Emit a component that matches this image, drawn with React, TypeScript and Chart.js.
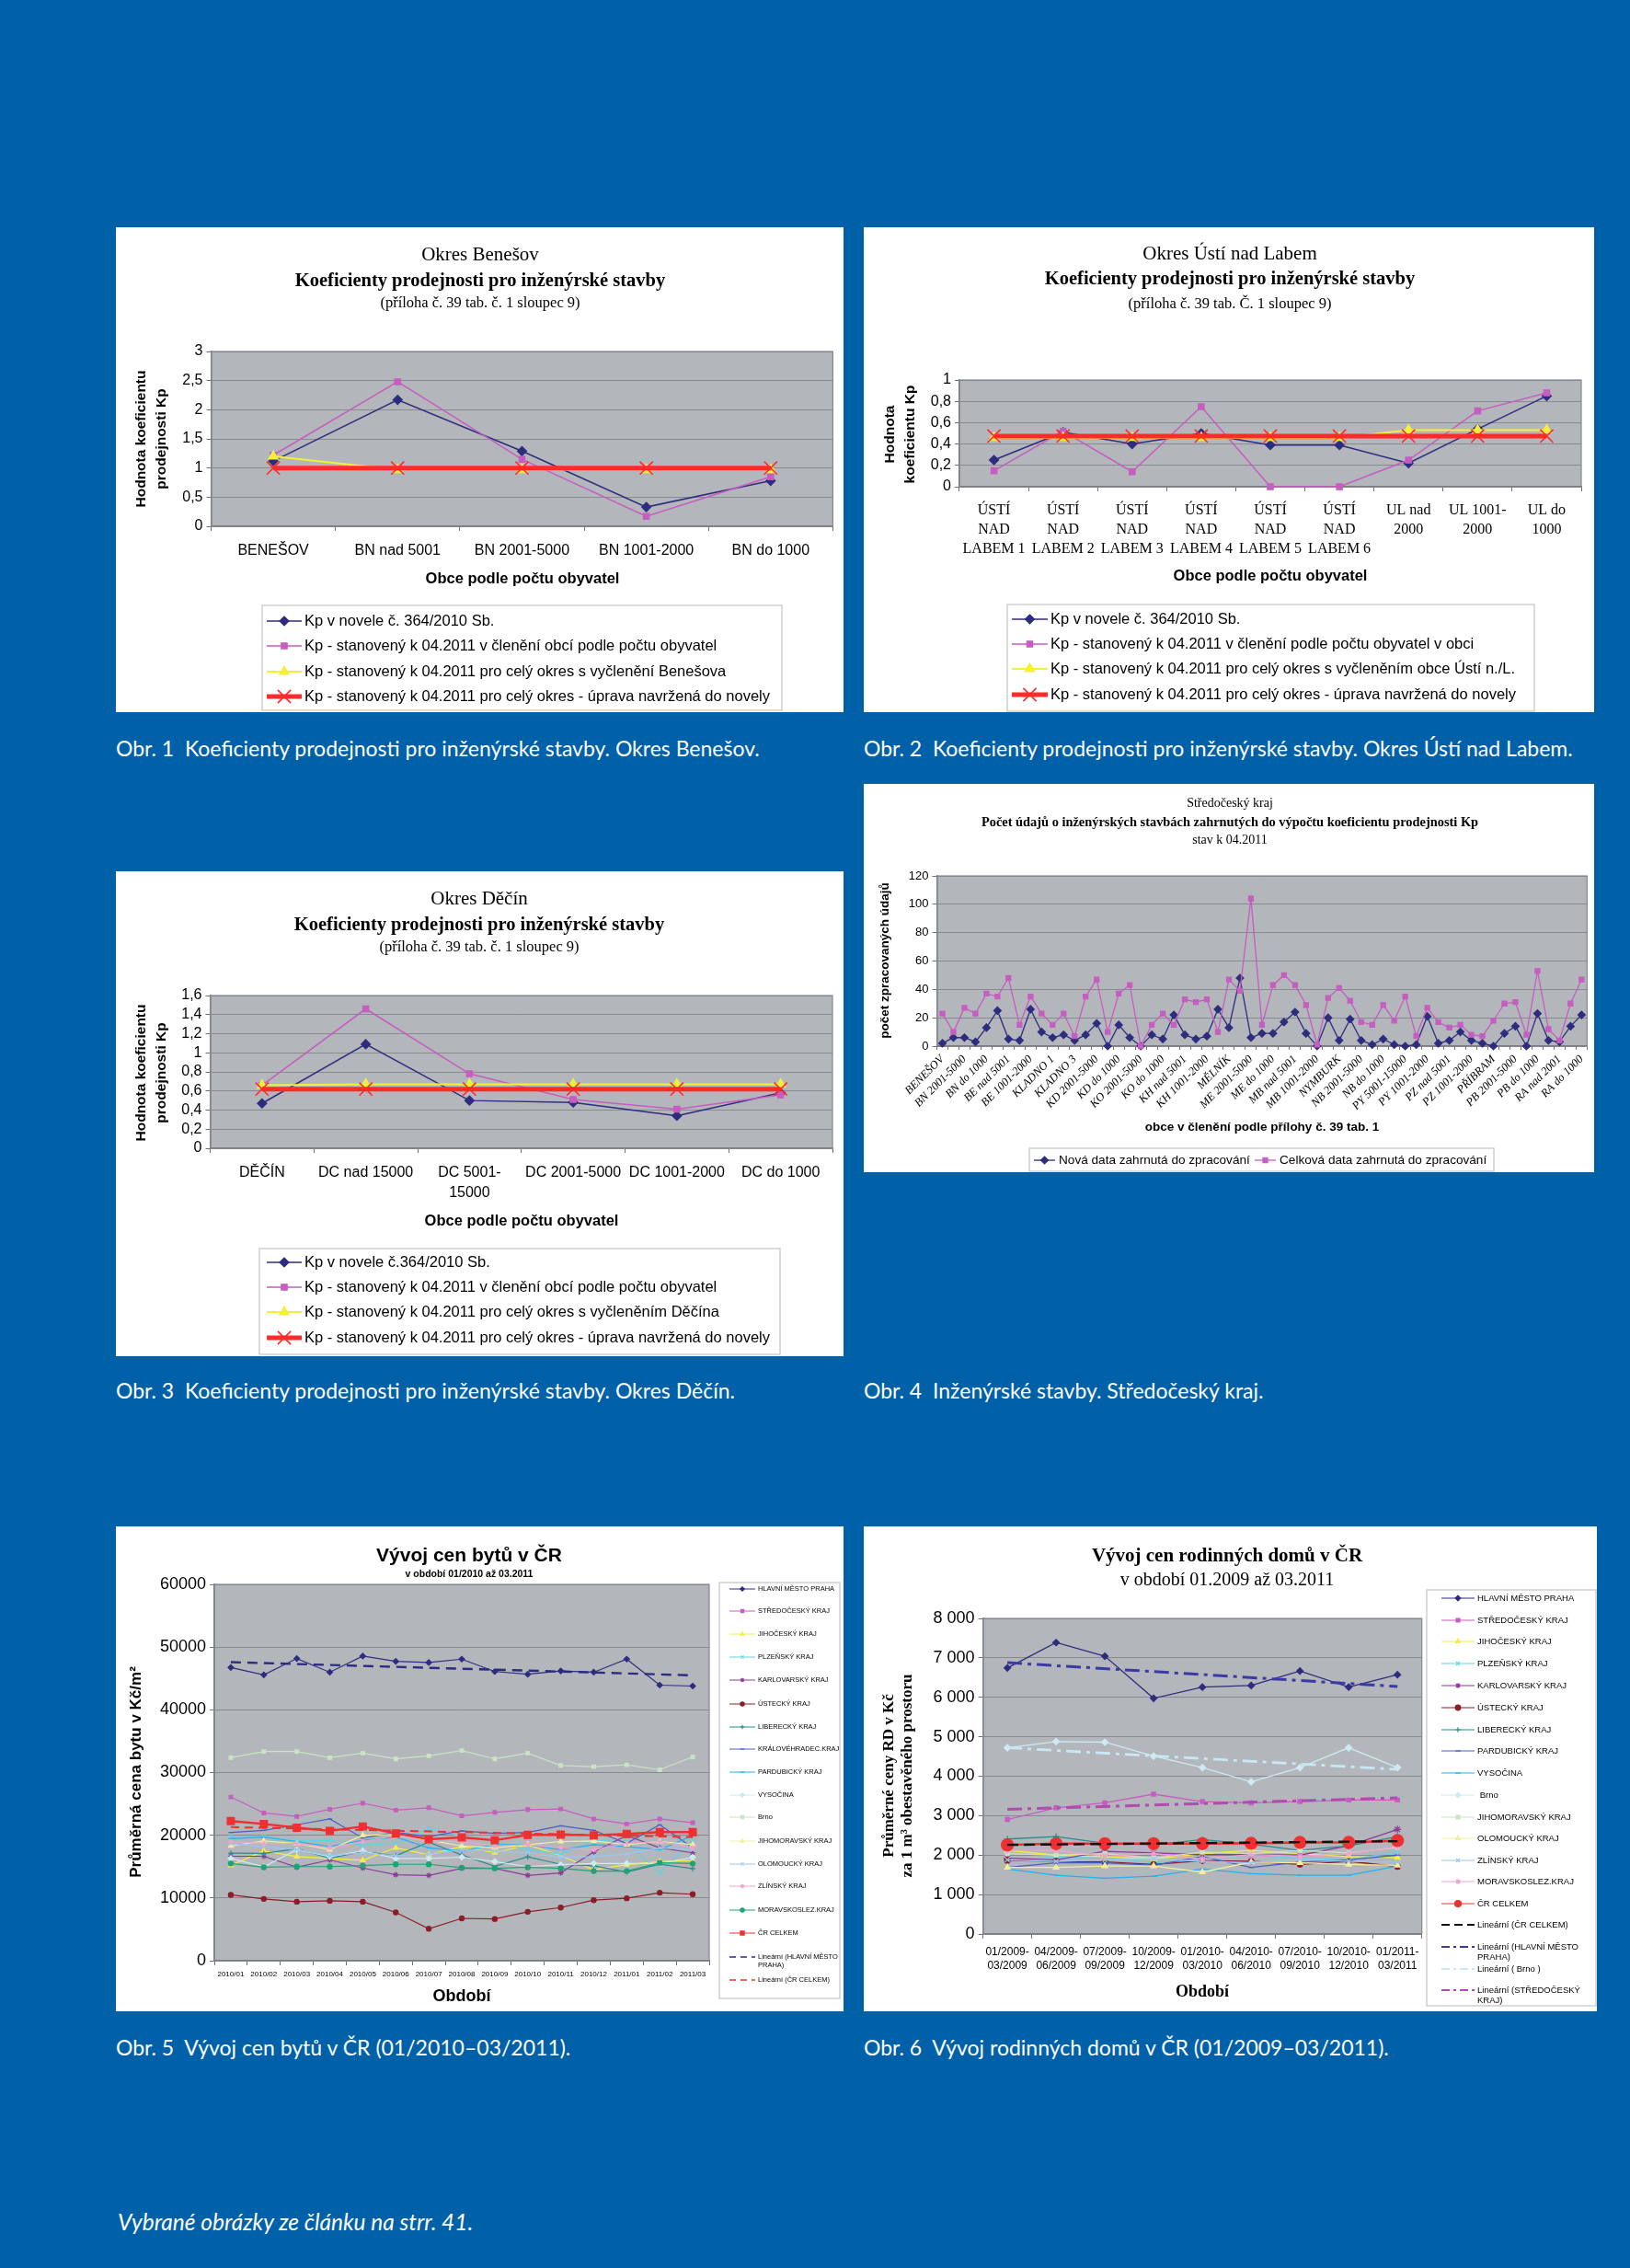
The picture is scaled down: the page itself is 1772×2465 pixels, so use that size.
import React, { useEffect, useRef } from 'react';
import { Chart, registerables } from 'chart.js';
import { drawPoint } from 'chart.js/helpers';

Chart.register(...registerables);
Chart.defaults.color = '#000';
Chart.defaults.font.family = "'Liberation Sans', Arial, sans-serif";

// ---------------- DATA ----------------
// Obr. 1 – Okres Benešov
const c1Labels = ['BENEŠOV', 'BN nad 5001', 'BN 2001-5000', 'BN 1001-2000', 'BN do 1000'];
const c1Novela = [1.12, 2.17, 1.29, 0.33, 0.78];
const c1Clenení = [1.22, 2.48, 1.15, 0.17, 0.85];
const c1Okres = [1.2, 0.97, 0.97, 0.97, 0.97];
const c1Uprava = [1, 1, 1, 1, 1];
const c1Legend = [
  'Kp v novele č. 364/2010 Sb.',
  'Kp - stanovený k 04.2011 v členění obcí podle počtu obyvatel',
  'Kp - stanovený k 04.2011 pro celý okres s vyčlenění Benešova',
  'Kp - stanovený k 04.2011 pro celý okres - úprava navržená do novely',
];

// Obr. 2 – Okres Ústí nad Labem
const c2Labels = [
  ['ÚSTÍ', 'NAD', 'LABEM 1'], ['ÚSTÍ', 'NAD', 'LABEM 2'], ['ÚSTÍ', 'NAD', 'LABEM 3'],
  ['ÚSTÍ', 'NAD', 'LABEM 4'], ['ÚSTÍ', 'NAD', 'LABEM 5'], ['ÚSTÍ', 'NAD', 'LABEM 6'],
  ['UL nad', '2000'], ['UL 1001-', '2000'], ['UL do', '1000'],
];
const c2Novela = [0.25, 0.51, 0.4, 0.5, 0.39, 0.39, 0.22, 0.54, 0.85];
const c2Clenení = [0.15, 0.52, 0.14, 0.75, 0, 0, 0.25, 0.71, 0.88];
const c2Okres = [0.46, 0.46, 0.46, 0.46, 0.46, 0.46, 0.53, 0.53, 0.53];
const c2Uprava = [0.475, 0.475, 0.475, 0.475, 0.475, 0.475, 0.475, 0.475, 0.475];
const c2Legend = [
  'Kp v novele č. 364/2010 Sb.',
  'Kp - stanovený k 04.2011 v členění podle počtu obyvatel v obci',
  'Kp - stanovený k 04.2011 pro celý okres s vyčleněním obce Ústí n./L.',
  'Kp - stanovený k 04.2011 pro celý okres - úprava navržená do novely',
];

// Obr. 3 – Okres Děčín
const c3Labels = ['DĚČÍN', 'DC nad 15000', ['DC 5001-', '15000'], 'DC 2001-5000', 'DC 1001-2000', 'DC do 1000'];
const c3Novela = [0.47, 1.09, 0.5, 0.48, 0.34, 0.58];
const c3Clenení = [0.66, 1.46, 0.78, 0.51, 0.41, 0.56];
const c3Okres = [0.66, 0.67, 0.67, 0.67, 0.67, 0.67];
const c3Uprava = [0.62, 0.62, 0.62, 0.62, 0.62, 0.62];
const c3Legend = [
  'Kp v novele č.364/2010 Sb.',
  'Kp - stanovený k 04.2011 v členění obcí podle počtu obyvatel',
  'Kp - stanovený k 04.2011 pro celý okres s vyčleněním Děčína',
  'Kp - stanovený k 04.2011 pro celý okres - úprava navržená do novely',
];

// Obr. 4 – Středočeský kraj
const c4Labels = [
  'BENEŠOV', 'BN nad 5001', 'BN 2001-5000', 'BN 1001-2000', 'BN do 1000',
  'BEROUN', 'BE nad 5001', 'BE 2001-5000', 'BE 1001-2000', 'BE do 1000',
  'KLADNO 1', 'KLADNO 2', 'KLADNO 3', 'KD nad 5001', 'KD 2001-5000', 'KD 1001-2000', 'KD do 1000',
  'KOLÍN', 'KO 2001-5000', 'KO 1001-2000', 'KO do 1000',
  'KUTNÁ HORA', 'KH nad 5001', 'KH 2001-5000', 'KH 1001-2000', 'KH do 1000',
  'MĚLNÍK', 'ME nad 5001', 'ME 2001-5000', 'ME 1001-2000', 'ME do 1000',
  'MLADÁ BOLESLAV', 'MB nad 5001', 'MB 2001-5000', 'MB 1001-2000', 'MB do 1000',
  'NYMBURK', 'NB nad 5001', 'NB 2001-5000', 'NB 1001-2000', 'NB do 1000',
  'PY nad 15000', 'PY 5001-15000', 'PY 2001-5000', 'PY 1001-2000', 'PY do 1000',
  'PZ nad 5001', 'PZ 2001-5000', 'PZ 1001-2000', 'PZ do 1000',
  'PŘÍBRAM', 'PB nad 5001', 'PB 2001-5000', 'PB 1001-2000', 'PB do 1000',
  'RAKOVNÍK', 'RA nad 2001', 'RA 1001-2000', 'RA do 1000',
];
const c4Nova = [2, 6, 6, 3, 13, 25, 5, 4, 26, 10, 6, 8, 4, 8, 16, 0, 15, 6, 0, 8, 5, 22, 8, 5, 7, 26, 13, 48, 6, 9,
  9, 17, 24, 9, 0, 20, 4, 19, 4, 1, 5, 1, 0, 1, 21, 2, 4, 10, 4, 2, 0, 9, 14, 0, 23, 4, 3, 14, 22];
const c4Celkova = [23, 10, 27, 23, 37, 35, 48, 15, 35, 23, 15, 23, 7, 35, 47, 10, 37, 43, 0, 15, 23, 15, 33, 31, 33, 10, 47, 39, 104, 15,
  43, 50, 43, 29, 1, 34, 41, 32, 17, 15, 29, 18, 35, 7, 27, 17, 13, 15, 8, 7, 18, 30, 31, 8, 53, 12, 4, 30, 47];
const c4Legend = ['Nová data zahrnutá do zpracování', 'Celková data zahrnutá do zpracování'];

// Obr. 5 – Vývoj cen bytů
const c5Labels = ['2010/01', '2010/02', '2010/03', '2010/04', '2010/05', '2010/06', '2010/07', '2010/08', '2010/09',
  '2010/10', '2010/11', '2010/12', '2011/01', '2011/02', '2011/03'];
const c5Praha = [46750, 45570, 48180, 46000, 48570, 47730, 47540, 48080, 46100, 45670, 46200, 46000, 48080, 43940, 43790];
const c5Stred = [26100, 23550, 23000, 24140, 25120, 24000, 24380, 23100, 23650, 24090, 24190, 22600, 21800, 22600, 22000];
const c5Jihoc = [15200, 17500, 16600, 16300, 16000, 18000, 16900, 18200, 17200, 18500, 16750, 14500, 15300, 15800, 16000];
const c5Plzen = [19800, 19800, 19100, 19200, 18500, 18700, 21100, 19800, 19000, 17700, 17000, 19200, 19000, 14000, 19200];
const c5Karlo = [16650, 16650, 14900, 16060, 14780, 13700, 13600, 14730, 14730, 13600, 14000, 17340, 19950, 18000, 17200];
const c5Ustec = [10500, 9850, 9400, 9550, 9400, 7700, 5100, 6750, 6650, 7800, 8470, 9650, 9950, 10840, 10600];
const c5Liber = [17140, 17100, 17830, 16350, 17390, 16750, 18900, 16850, 15070, 16550, 15370, 15120, 14140, 15370, 14680];
const c5Khk = [20440, 20790, 21670, 22600, 19560, 20440, 19800, 20700, 20300, 20440, 21500, 20790, 18700, 21670, 18000];
const c5Pardu = [19450, 19700, 19000, 18200, 19200, 19700, 18000, 17500, 18500, 18500, 17700, 18500, 18200, 17700, 19950];
const c5Vysoc = [16300, 15000, 17700, 16600, 17500, 16300, 16300, 16500, 15800, 15000, 15300, 15500, 15500, 15500, 16500];
const c5Brno = [32360, 33350, 33350, 32360, 33100, 32170, 32660, 33500, 32170, 33100, 31130, 30940, 31230, 30440, 32500];
const c5Jihom = [18300, 19100, 18700, 17700, 20000, 20100, 19200, 18300, 18000, 18500, 19000, 19100, 18500, 19000, 18500];
const c5Olomo = [18700, 18200, 17700, 16750, 17200, 16750, 17000, 17700, 17500, 17200, 16500, 16600, 17000, 18000, 17700];
const c5Zlin = [19000, 18700, 18700, 18000, 19000, 19950, 19000, 19000, 18300, 18500, 18000, 17700, 18700, 19000, 18000];
const c5Msk = [15500, 14900, 15000, 15000, 15170, 15370, 15370, 14830, 14730, 14900, 14730, 14290, 14290, 15600, 15500];
const c5CR = [22270, 21800, 21200, 20700, 21400, 20300, 19360, 19660, 19200, 20050, 20100, 20000, 20200, 20500, 20500];
const c5TrendPraha = [47600, null, null, null, null, null, null, null, null, null, null, null, null, null, 45500];
const c5TrendCR = [21300, null, null, null, null, null, null, null, null, null, null, null, null, null, 19700];

// Obr. 6 – Vývoj cen rodinných domů
const c6Labels = [['01/2009-', '03/2009'], ['04/2009-', '06/2009'], ['07/2009-', '09/2009'], ['10/2009-', '12/2009'],
  ['01/2010-', '03/2010'], ['04/2010-', '06/2010'], ['07/2010-', '09/2010'], ['10/2010-', '12/2010'], ['01/2011-', '03/2011']];
const c6Praha = [6745, 7388, 7043, 5976, 6259, 6298, 6667, 6259, 6573];
const c6Stred = [2902, 3200, 3325, 3545, 3357, 3325, 3357, 3396, 3396];
const c6Jihoc = [2118, 2000, 1961, 1898, 2039, 2118, 2039, 1961, 1937];
const c6Plzen = [1843, 1961, 1922, 1804, 1882, 2000, 1922, 1882, 2078];
const c6Karlo = [1922, 1882, 2094, 2055, 2016, 2016, 2000, 2235, 2651];
const c6Ustec = [1867, 1843, 1827, 1765, 1859, 1843, 1765, 1843, 1710];
const c6Liber = [2408, 2471, 2298, 2259, 2392, 2275, 2118, 2235, 2471];
const c6Pardu = [1686, 1804, 1804, 1741, 1961, 1686, 1820, 1882, 2000];
const c6Vysoc = [1647, 1490, 1412, 1467, 1647, 1529, 1490, 1490, 1725];
const c6Brno = [4722, 4878, 4863, 4510, 4220, 3859, 4220, 4722, 4220];
const c6Jihom = [2039, 2000, 2039, 1922, 2078, 2039, 2118, 2055, 2196];
const c6Olomo = [1686, 1686, 1725, 1725, 1569, 1820, 1804, 1765, 1741];
const c6Zlin = [1882, 1843, 1882, 1898, 1843, 1804, 1898, 1843, 1820];
const c6Msk = [2118, 2118, 1976, 2039, 1898, 2016, 1976, 2039, 2212];
const c6CR = [2259, 2290, 2290, 2290, 2290, 2298, 2322, 2322, 2369];
const c6TrendCR = [2259, null, null, null, null, null, null, null, 2353];
const c6TrendPraha = [6878, null, null, null, null, null, null, null, 6275];
const c6TrendBrno = [4722, null, null, null, null, null, null, null, 4173];
const c6TrendStred = [3161, null, null, null, null, null, null, null, 3451];

const captions = [
  'Obr. 1  Koeficienty prodejnosti pro inženýrské stavby. Okres Benešov.',
  'Obr. 2  Koeficienty prodejnosti pro inženýrské stavby. Okres Ústí nad Labem.',
  'Obr. 3  Koeficienty prodejnosti pro inženýrské stavby. Okres Děčín.',
  'Obr. 4  Inženýrské stavby. Středočeský kraj.',
  'Obr. 5  Vývoj cen bytů v ČR (01/2010–03/2011).',
  'Obr. 6  Vývoj rodinných domů v ČR (01/2009–03/2011).',
];
const footer = 'Vybrané obrázky ze článku na strr. 41.';

// ---------------- STYLE ----------------
const PAGE_BG = '#0061A8';
const PLOT_BG = '#B3B6BB';
const PLOT_EDGE = '#85888D';
const GRID = '#878A8F';
const AXIS = '#6C6F74';

const NAVY = '#2E2C7E';
const MAGENTA = '#C65DC0';
const YELLOW = '#F4F03A';
const RED = '#FF2B2B';
const CYAN = '#5FD3E6';
const PURPLE = '#8B3C98';
const MAROON = '#8A1E28';
const TEAL = '#2B8C8A';
const BLUE = '#4A5FC1';
const SKY = '#22B2EE';
const LTURQ = '#CDEAF2';
const LGREEN = '#C9E4C3';
const LYELLOW = '#F3EFA0';
const PALEBLUE = '#9DC6EE';
const ROSE = '#F2A3CC';
const GREEN = '#1FA374';

const SANS = "'Liberation Sans', Arial, sans-serif";
const SERIF = "'Liberation Serif', 'Times New Roman', serif";

type Box = { x: number; y: number; w: number; h: number };
type Plot = { l: number; t: number; r: number; b: number };

const B1: Box = { x: 126, y: 247, w: 791, h: 527 };
const B2: Box = { x: 939, y: 247, w: 794, h: 527 };
const B3: Box = { x: 126, y: 947, w: 791, h: 527 };
const B4: Box = { x: 939, y: 852, w: 794, h: 422 };
const B5: Box = { x: 126, y: 1659, w: 791, h: 527 };
const B6: Box = { x: 939, y: 1659, w: 797, h: 527 };

function frame(box: Box, p: Plot, xH: number) {
  return {
    padding: { left: 0, top: p.t - box.y, right: box.x + box.w - p.r, bottom: box.y + box.h - p.b - xH },
    yW: p.l - box.x,
    xH,
  };
}

function ser(label: string, data: any[], color: string, style: any, radius: number, width: number, extra: any = {}) {
  return {
    label, data,
    borderColor: color, backgroundColor: color, borderWidth: width,
    pointStyle: style, pointRadius: radius, pointBackgroundColor: color, pointBorderColor: color,
    pointBorderWidth: 1.2, tension: 0, clip: false, fill: false,
    ...extra,
  };
}

function orderTop(ds: any[]) {
  return ds.map((d, i) => ({ ...d, order: ds.length - i }));
}

const fmtComma = (v: any) => String(Math.round(Number(v) * 100) / 100).replace('.', ',');
const fmtSpace = (v: any) => String(Math.round(Number(v))).replace(/\B(?=(\d{3})+(?!\d))/g, ' ');
const fmtPlain = (v: any) => String(Math.round(Number(v)));

function decor(box: Box, spec: any) {
  return {
    id: 'decor',
    beforeDraw(chart: any) {
      const { ctx, chartArea: a } = chart;
      ctx.save();
      ctx.fillStyle = PLOT_BG;
      ctx.fillRect(a.left, a.top, a.right - a.left, a.bottom - a.top);
      ctx.restore();
    },
    beforeDatasetsDraw(chart: any) {
      const { ctx, chartArea: a } = chart;
      ctx.save();
      ctx.strokeStyle = PLOT_EDGE;
      ctx.lineWidth = 1.2;
      ctx.strokeRect(a.left, a.top, a.right - a.left, a.bottom - a.top);
      ctx.restore();
    },
    afterDraw(chart: any) {
      const ctx = chart.ctx;
      const ox = box.x, oy = box.y;
      for (const t of spec.texts || []) {
        ctx.save();
        ctx.font = t.f;
        ctx.fillStyle = '#000';
        ctx.textAlign = t.a || 'center';
        ctx.textBaseline = 'middle';
        if (t.rot) {
          ctx.translate(t.x - ox, t.y - oy);
          ctx.rotate(-Math.PI / 2);
          ctx.fillText(t.s, 0, 0);
        } else {
          ctx.fillText(t.s, t.x - ox, t.y - oy);
        }
        ctx.restore();
      }
      const lg = spec.legend;
      if (lg) {
        ctx.save();
        ctx.strokeStyle = '#C4C4C4';
        ctx.lineWidth = 1.2;
        ctx.fillStyle = '#fff';
        ctx.fillRect(lg.box[0] - ox, lg.box[1] - oy, lg.box[2], lg.box[3]);
        ctx.strokeRect(lg.box[0] - ox, lg.box[1] - oy, lg.box[2], lg.box[3]);
        lg.items.forEach((it: any) => {
          const ds = chart.data.datasets[it.ds];
          const y = it.y - oy;
          const x1 = it.x1 - ox, x2 = it.x2 - ox;
          ctx.save();
          ctx.strokeStyle = ds.borderColor;
          ctx.lineWidth = it.lw || ds.borderWidth;
          ctx.setLineDash(it.dash || ds.borderDash || []);
          ctx.beginPath();
          ctx.moveTo(x1, y);
          ctx.lineTo(x2, y);
          ctx.stroke();
          ctx.setLineDash([]);
          if (ds.pointRadius > 0) {
            ctx.fillStyle = ds.pointBackgroundColor;
            ctx.strokeStyle = ds.pointBorderColor;
            ctx.lineWidth = ds.pointBorderWidth;
            drawPoint(ctx, { pointStyle: ds.pointStyle, rotation: 0, radius: it.r || ds.pointRadius, borderWidth: ds.pointBorderWidth } as any, (x1 + x2) / 2, y);
          }
          ctx.restore();
          ctx.save();
          ctx.font = lg.font;
          ctx.fillStyle = '#000';
          ctx.textAlign = 'left';
          ctx.textBaseline = 'middle';
          String(ds.label).split('\n').forEach((ln: string, k: number) => {
            ctx.fillText(ln, it.tx - ox, y + k * (lg.lh || 0));
          });
          ctx.restore();
        });
        ctx.restore();
      }
    },
  };
}

function baseConfig(box: Box, f: any, labels: any[], datasets: any[], x: any, y: any, spec: any) {
  return {
    type: 'line',
    data: { labels, datasets: orderTop(datasets) },
    options: {
      responsive: false,
      animation: false,
      events: [],
      layout: { padding: f.padding },
      plugins: { legend: { display: false }, tooltip: { enabled: false }, title: { display: false } },
      scales: {
        x: {
          type: 'category', offset: true,
          grid: { offset: true, drawOnChartArea: false, drawTicks: true, tickLength: 5, color: AXIS, lineWidth: 1 },
          border: { display: true, color: AXIS, width: 1.2 },
          ...x,
          ticks: { autoSkip: false, maxRotation: 0, minRotation: 0, color: '#000', ...(x.ticks || {}) },
          afterFit: (s: any) => { s.height = f.xH; },
        },
        y: {
          grid: { color: GRID, lineWidth: 1, tickLength: 5, tickColor: AXIS },
          border: { display: true, color: AXIS, width: 1.5 },
          ...y,
          ticks: { color: '#000', padding: 4, autoSkip: false, ...(y.ticks || {}) },
          afterFit: (s: any) => { s.width = f.yW; },
        },
      },
    },
    plugins: [decor(box, spec)],
  };
}

// ---- Obr 1-3 (same style)
function kpDatasets(leg: string[], a: number[], b: number[], c: number[], d: number[]) {
  return [
    ser(leg[0], a, NAVY, 'rectRot', 5, 1.5),
    ser(leg[1], b, MAGENTA, 'rect', 4.5, 1.5),
    ser(leg[2], c, YELLOW, 'triangle', 6, 2),
    ser(leg[3], d, RED, 'crossRot', 10, 5, { pointBorderWidth: 1.6 }),
  ];
}

const TITLE1 = `21px ${SERIF}`;
const TITLE2 = `bold 20.5px ${SERIF}`;
const TITLE3 = `16.5px ${SERIF}`;
const LEG = `16.5px ${SANS}`;

function makeC1() {
  const P: Plot = { l: 229.5, t: 382, r: 906, b: 572 };
  const f = frame(B1, P, 45);
  const spec = {
    texts: [
      { s: 'Okres Benešov', x: 522, y: 277, f: TITLE1 },
      { s: 'Koeficienty prodejnosti pro inženýrské stavby', x: 522, y: 306, f: TITLE2 },
      { s: '(příloha č. 39 tab. č. 1 sloupec 9)', x: 522, y: 330, f: TITLE3 },
      { s: 'Hodnota koeficientu', x: 154, y: 477, f: `bold 15.5px ${SANS}`, rot: true },
      { s: 'prodejnosti Kp', x: 176, y: 477, f: `bold 15.5px ${SANS}`, rot: true },
      { s: 'Obce podle počtu obyvatel', x: 568, y: 629, f: `bold 16.5px ${SANS}` },
    ],
    legend: {
      box: [285, 658, 565, 114], font: LEG,
      items: [0, 1, 2, 3].map((i) => ({ ds: i, x1: 290, x2: 328, tx: 331, y: [675, 702, 730, 757][i] })),
    },
  };
  return baseConfig(B1, f, c1Labels, kpDatasets(c1Legend, c1Novela, c1Clenení, c1Okres, c1Uprava),
    { ticks: { font: { size: 16 }, padding: 12 } },
    { min: 0, max: 3, ticks: { stepSize: 0.5, font: { size: 16 }, callback: fmtComma } },
    spec);
}

function makeC2() {
  const P: Plot = { l: 1043, t: 413, r: 1719, b: 529 };
  const f = frame(B2, P, 80);
  const spec = {
    texts: [
      { s: 'Okres Ústí nad Labem', x: 1337, y: 276, f: TITLE1 },
      { s: 'Koeficienty prodejnosti pro inženýrské stavby', x: 1337, y: 304, f: TITLE2 },
      { s: '(příloha č. 39 tab. Č. 1 sloupec 9)', x: 1337, y: 331, f: TITLE3 },
      { s: 'Hodnota', x: 968, y: 472, f: `bold 15.5px ${SANS}`, rot: true },
      { s: 'koeficientu Kp', x: 990, y: 472, f: `bold 15.5px ${SANS}`, rot: true },
      { s: 'Obce podle počtu obyvatel', x: 1381, y: 626, f: `bold 16.5px ${SANS}` },
    ],
    legend: {
      box: [1095, 657, 573, 116], font: LEG,
      items: [0, 1, 2, 3].map((i) => ({ ds: i, x1: 1100, x2: 1139, tx: 1142, y: [673, 700, 727, 755][i] })),
    },
  };
  return baseConfig(B2, f, c2Labels, kpDatasets(c2Legend, c2Novela, c2Clenení, c2Okres, c2Uprava),
    { ticks: { font: { size: 16, family: SERIF, lineHeight: 1.33 }, padding: 10 } },
    { min: 0, max: 1, ticks: { stepSize: 0.2, font: { size: 16 }, callback: fmtComma } },
    spec);
}

function makeC3() {
  const P: Plot = { l: 228.5, t: 1082, r: 905, b: 1248 };
  const f = frame(B3, P, 60);
  const spec = {
    texts: [
      { s: 'Okres Děčín', x: 521, y: 977, f: TITLE1 },
      { s: 'Koeficienty prodejnosti pro inženýrské stavby', x: 521, y: 1006, f: TITLE2 },
      { s: '(příloha č. 39 tab. č. 1 sloupec 9)', x: 521, y: 1030, f: TITLE3 },
      { s: 'Hodnota koeficientu', x: 154, y: 1166, f: `bold 15.5px ${SANS}`, rot: true },
      { s: 'prodejnosti Kp', x: 176, y: 1166, f: `bold 15.5px ${SANS}`, rot: true },
      { s: 'Obce podle počtu obyvatel', x: 567, y: 1327, f: `bold 16.5px ${SANS}` },
    ],
    legend: {
      box: [282, 1357, 566, 115], font: LEG,
      items: [0, 1, 2, 3].map((i) => ({ ds: i, x1: 290, x2: 328, tx: 331, y: [1372, 1399, 1426, 1454][i] })),
    },
  };
  return baseConfig(B3, f, c3Labels, kpDatasets(c3Legend, c3Novela, c3Clenení, c3Okres, c3Uprava),
    { ticks: { font: { size: 16, lineHeight: 1.4 }, padding: 10 } },
    { min: 0, max: 1.6, ticks: { stepSize: 0.2, font: { size: 16 }, callback: fmtComma } },
    spec);
}

function makeC4() {
  const P: Plot = { l: 1018.5, t: 952, r: 1726, b: 1137 };
  const f = frame(B4, P, 70);
  const spec = {
    texts: [
      { s: 'Středočeský kraj', x: 1337, y: 873, f: `14px ${SERIF}` },
      { s: 'Počet údajů o inženýrských stavbách zahrnutých do výpočtu koeficientu prodejnosti Kp', x: 1337, y: 894, f: `bold 14.4px ${SERIF}` },
      { s: 'stav k 04.2011', x: 1337, y: 913, f: `14px ${SERIF}` },
      { s: 'počet zpracovaných údajů', x: 962, y: 1044, f: `bold 13.5px ${SANS}`, rot: true },
      { s: 'obce v členění podle přílohy č. 39 tab. 1', x: 1372, y: 1225, f: `bold 13.5px ${SANS}` },
    ],
    legend: {
      box: [1119, 1248, 505, 25], font: `13.6px ${SANS}`,
      items: [
        { ds: 0, x1: 1124, x2: 1147, tx: 1151, y: 1261 },
        { ds: 1, x1: 1364, x2: 1387, tx: 1391, y: 1261 },
      ],
    },
  };
  const ds = [
    ser(c4Legend[0], c4Nova, NAVY, 'rectRot', 4, 1.3),
    ser(c4Legend[1], c4Celkova, MAGENTA, 'rect', 3.6, 1.3),
  ];
  return baseConfig(B4, f, c4Labels, ds,
    {
      ticks: {
        font: { size: 12.5, family: SERIF, style: 'italic' }, padding: 3, minRotation: 45, maxRotation: 45,
        callback: (_v: any, i: number) => (i % 2 === 0 ? c4Labels[i] : ''),
      },
      grid: { offset: true, drawOnChartArea: false, drawTicks: true, tickLength: 4, color: AXIS },
    },
    { min: 0, max: 120, ticks: { stepSize: 20, font: { size: 13 } } },
    spec);
}

function makeC5() {
  const P: Plot = { l: 233, t: 1722, r: 771, b: 2131 };
  const f = frame(B5, P, 25);
  const r = 2.6, w = 1.2;
  const ds = [
    ser('HLAVNÍ MĚSTO PRAHA', c5Praha, NAVY, 'rectRot', 3, w),
    ser('STŘEDOČESKÝ KRAJ', c5Stred, MAGENTA, 'rect', r, w),
    ser('JIHOČESKÝ KRAJ', c5Jihoc, YELLOW, 'triangle', 3, w),
    ser('PLZEŇSKÝ KRAJ', c5Plzen, CYAN, 'crossRot', 3, w),
    ser('KARLOVARSKÝ KRAJ', c5Karlo, PURPLE, 'star', 3, w),
    ser('ÚSTECKÝ KRAJ', c5Ustec, MAROON, 'circle', r, w),
    ser('LIBERECKÝ KRAJ', c5Liber, TEAL, 'cross', 3, w),
    ser('KRÁLOVÉHRADEC.KRAJ', c5Khk, BLUE, 'line', 2.5, w),
    ser('PARDUBICKÝ KRAJ', c5Pardu, SKY, 'line', 2.5, w),
    ser('VYSOČINA', c5Vysoc, LTURQ, 'rectRot', 3, w),
    ser('Brno', c5Brno, LGREEN, 'rect', r, w),
    ser('JIHOMORAVSKÝ KRAJ', c5Jihom, LYELLOW, 'triangle', 3, w),
    ser('OLOMOUCKÝ KRAJ', c5Olomo, PALEBLUE, 'crossRot', 3, w),
    ser('ZLÍNSKÝ KRAJ', c5Zlin, ROSE, 'star', 3, w),
    ser('MORAVSKOSLEZ.KRAJ', c5Msk, GREEN, 'circle', r, w),
    ser('ČR CELKEM', c5CR, '#F03030', 'rect', 5.5, 2.4),
    ser('Lineární (HLAVNÍ MĚSTO\nPRAHA)', c5TrendPraha, '#2B2B80', 'circle', 0, 2.4, { borderDash: [11, 7], spanGaps: true }),
    ser('Lineární (ČR CELKEM)', c5TrendCR, '#F03030', 'circle', 0, 2, { borderDash: [9, 6], spanGaps: true }),
  ];
  const ys = [1727, 1751, 1776, 1801, 1826, 1852, 1877, 1901, 1926, 1951, 1975, 2001, 2026, 2050, 2076, 2101, 2127, 2152];
  const spec = {
    texts: [
      { s: 'Vývoj cen bytů v ČR', x: 510, y: 1691, f: `bold 21px ${SANS}` },
      { s: 'v období 01/2010 až 03.2011', x: 510, y: 1711, f: `bold 10.5px ${SANS}` },
      { s: 'Průměrná cena bytu v Kč/m²', x: 148, y: 1926, f: `bold 17px ${SANS}`, rot: true },
      { s: 'Období', x: 502, y: 2170, f: `bold 18px ${SANS}` },
    ],
    legend: {
      box: [782, 1720, 131, 452], font: `7.5px ${SANS}`, lh: 9,
      items: ys.map((y, i) => ({ ds: i, x1: 793, x2: 821, tx: 824, y, r: i === 15 ? 3 : 2.2, lw: i >= 16 ? 1.6 : 1, dash: i >= 16 ? [7, 5] : undefined })),
    },
  };
  return baseConfig(B5, f, c5Labels, ds,
    { ticks: { font: { size: 8 }, padding: 5 } },
    { min: 0, max: 60000, ticks: { stepSize: 10000, font: { size: 18 }, callback: fmtPlain } },
    spec);
}

function makeC6() {
  const P: Plot = { l: 1068.6, t: 1759, r: 1545.7, b: 2102 };
  const f = frame(B6, P, 40);
  const r = 3, w = 1.3;
  const ds = [
    ser('HLAVNÍ MĚSTO PRAHA', c6Praha, NAVY, 'rectRot', 3.5, w),
    ser('STŘEDOČESKÝ KRAJ', c6Stred, MAGENTA, 'rect', r, w),
    ser('JIHOČESKÝ KRAJ', c6Jihoc, YELLOW, 'triangle', 3.5, w),
    ser('PLZEŇSKÝ KRAJ', c6Plzen, CYAN, 'crossRot', 3.5, w),
    ser('KARLOVARSKÝ KRAJ', c6Karlo, PURPLE, 'star', 4, w),
    ser('ÚSTECKÝ KRAJ', c6Ustec, MAROON, 'circle', r, w),
    ser('LIBERECKÝ KRAJ', c6Liber, TEAL, 'cross', 3.5, w),
    ser('PARDUBICKÝ KRAJ', c6Pardu, BLUE, 'line', 3, w),
    ser('VYSOČINA', c6Vysoc, SKY, 'line', 3, w),
    ser(' Brno', c6Brno, LTURQ, 'rectRot', 3.5, w),
    ser('JIHOMORAVSKÝ KRAJ', c6Jihom, LGREEN, 'rect', r, w),
    ser('OLOMOUCKÝ KRAJ', c6Olomo, LYELLOW, 'triangle', 3.5, w),
    ser('ZLÍNSKÝ KRAJ', c6Zlin, PALEBLUE, 'crossRot', 3.5, w),
    ser('MORAVSKOSLEZ.KRAJ', c6Msk, ROSE, 'star', 4, w),
    ser('ČR CELKEM', c6CR, '#F03030', 'circle', 6.5, 2.4),
    ser('Lineární (ČR CELKEM)', c6TrendCR, '#111111', 'circle', 0, 2.4, { borderDash: [12, 6], spanGaps: true }),
    ser('Lineární (HLAVNÍ MĚSTO\nPRAHA)', c6TrendPraha, '#3A3AA6', 'circle', 0, 3, { borderDash: [16, 6, 4, 6], spanGaps: true }),
    ser('Lineární ( Brno )', c6TrendBrno, '#C8E8F4', 'circle', 0, 2.8, { borderDash: [16, 6, 4, 6], spanGaps: true }),
    ser('Lineární (STŘEDOČESKÝ\nKRAJ)', c6TrendStred, '#B04CB0', 'circle', 0, 3, { borderDash: [16, 6, 4, 6], spanGaps: true }),
  ];
  const ys = [1737, 1761, 1784, 1808, 1832, 1856, 1880, 1903, 1927, 1951, 1975, 1998, 2022, 2045, 2069, 2092, 2116, 2140, 2163];
  const spec = {
    texts: [
      { s: 'Vývoj cen rodinných domů v ČR', x: 1334, y: 1692, f: `bold 21px ${SERIF}` },
      { s: 'v období 01.2009 až 03.2011', x: 1334, y: 1718, f: `20px ${SERIF}` },
      { s: 'Průměrné ceny RD v Kč', x: 967, y: 1930, f: `bold 17px ${SERIF}`, rot: true },
      { s: 'za 1 m³ obestavěného prostoru', x: 987, y: 1930, f: `bold 17px ${SERIF}`, rot: true },
      { s: 'Období', x: 1307, y: 2165, f: `bold 18px ${SERIF}` },
    ],
    legend: {
      box: [1551, 1728, 184, 452], font: `9.5px ${SANS}`, lh: 11,
      items: ys.map((y, i) => ({
        ds: i, x1: 1567, x2: 1603, tx: 1606, y, r: i === 14 ? 3.5 : 2.8,
        lw: i >= 15 ? 2 : 1.2, dash: i === 15 ? [9, 5] : i > 15 ? [9, 4, 3, 4] : undefined,
      })),
    },
  };
  return baseConfig(B6, f, c6Labels, ds,
    { ticks: { font: { size: 12, lineHeight: 1.25 }, padding: 7 } },
    { min: 0, max: 8000, ticks: { stepSize: 1000, font: { size: 18 }, callback: fmtSpace } },
    spec);
}

// ---------------- COMPONENTS ----------------
function Panel({ box, make }: { box: Box; make: () => any }) {
  const ref = useRef<HTMLCanvasElement | null>(null);
  useEffect(() => {
    const chart = new Chart(ref.current as HTMLCanvasElement, make());
    return () => chart.destroy();
  }, []);
  return (
    <div style={{ position: 'absolute', left: box.x, top: box.y, width: box.w, height: box.h, background: '#fff' }}>
      <canvas ref={ref} width={box.w} height={box.h} style={{ display: 'block', width: box.w, height: box.h }} />
    </div>
  );
}

function Caption({ x, y, text, italic, size }: { x: number; y: number; text: string; italic?: boolean; size?: number }) {
  return (
    <div
      style={{
        position: 'absolute', left: x, top: y - 15, height: 30, lineHeight: '30px',
        color: '#fff', fontFamily: "Lato, 'Open Sans', sans-serif", fontSize: size || 23, whiteSpace: 'pre',
        fontStyle: italic ? 'italic' : 'normal',
      }}
    >
      {text}
    </div>
  );
}

export default function App() {
  return (
    <div style={{ position: 'absolute', left: 0, top: 0, width: 1772, height: 2465, background: PAGE_BG, overflow: 'hidden' }}>
      <Panel box={B1} make={makeC1} />
      <Panel box={B2} make={makeC2} />
      <Panel box={B3} make={makeC3} />
      <Panel box={B4} make={makeC4} />
      <Panel box={B5} make={makeC5} />
      <Panel box={B6} make={makeC6} />
      <Caption x={126} y={813} text={captions[0]} />
      <Caption x={939} y={813} text={captions[1]} />
      <Caption x={126} y={1511} text={captions[2]} />
      <Caption x={939} y={1511} text={captions[3]} />
      <Caption x={126} y={2225} text={captions[4]} />
      <Caption x={939} y={2225} text={captions[5]} />
      <Caption x={128} y={2415} text={footer} italic size={24.5} />
    </div>
  );
}
